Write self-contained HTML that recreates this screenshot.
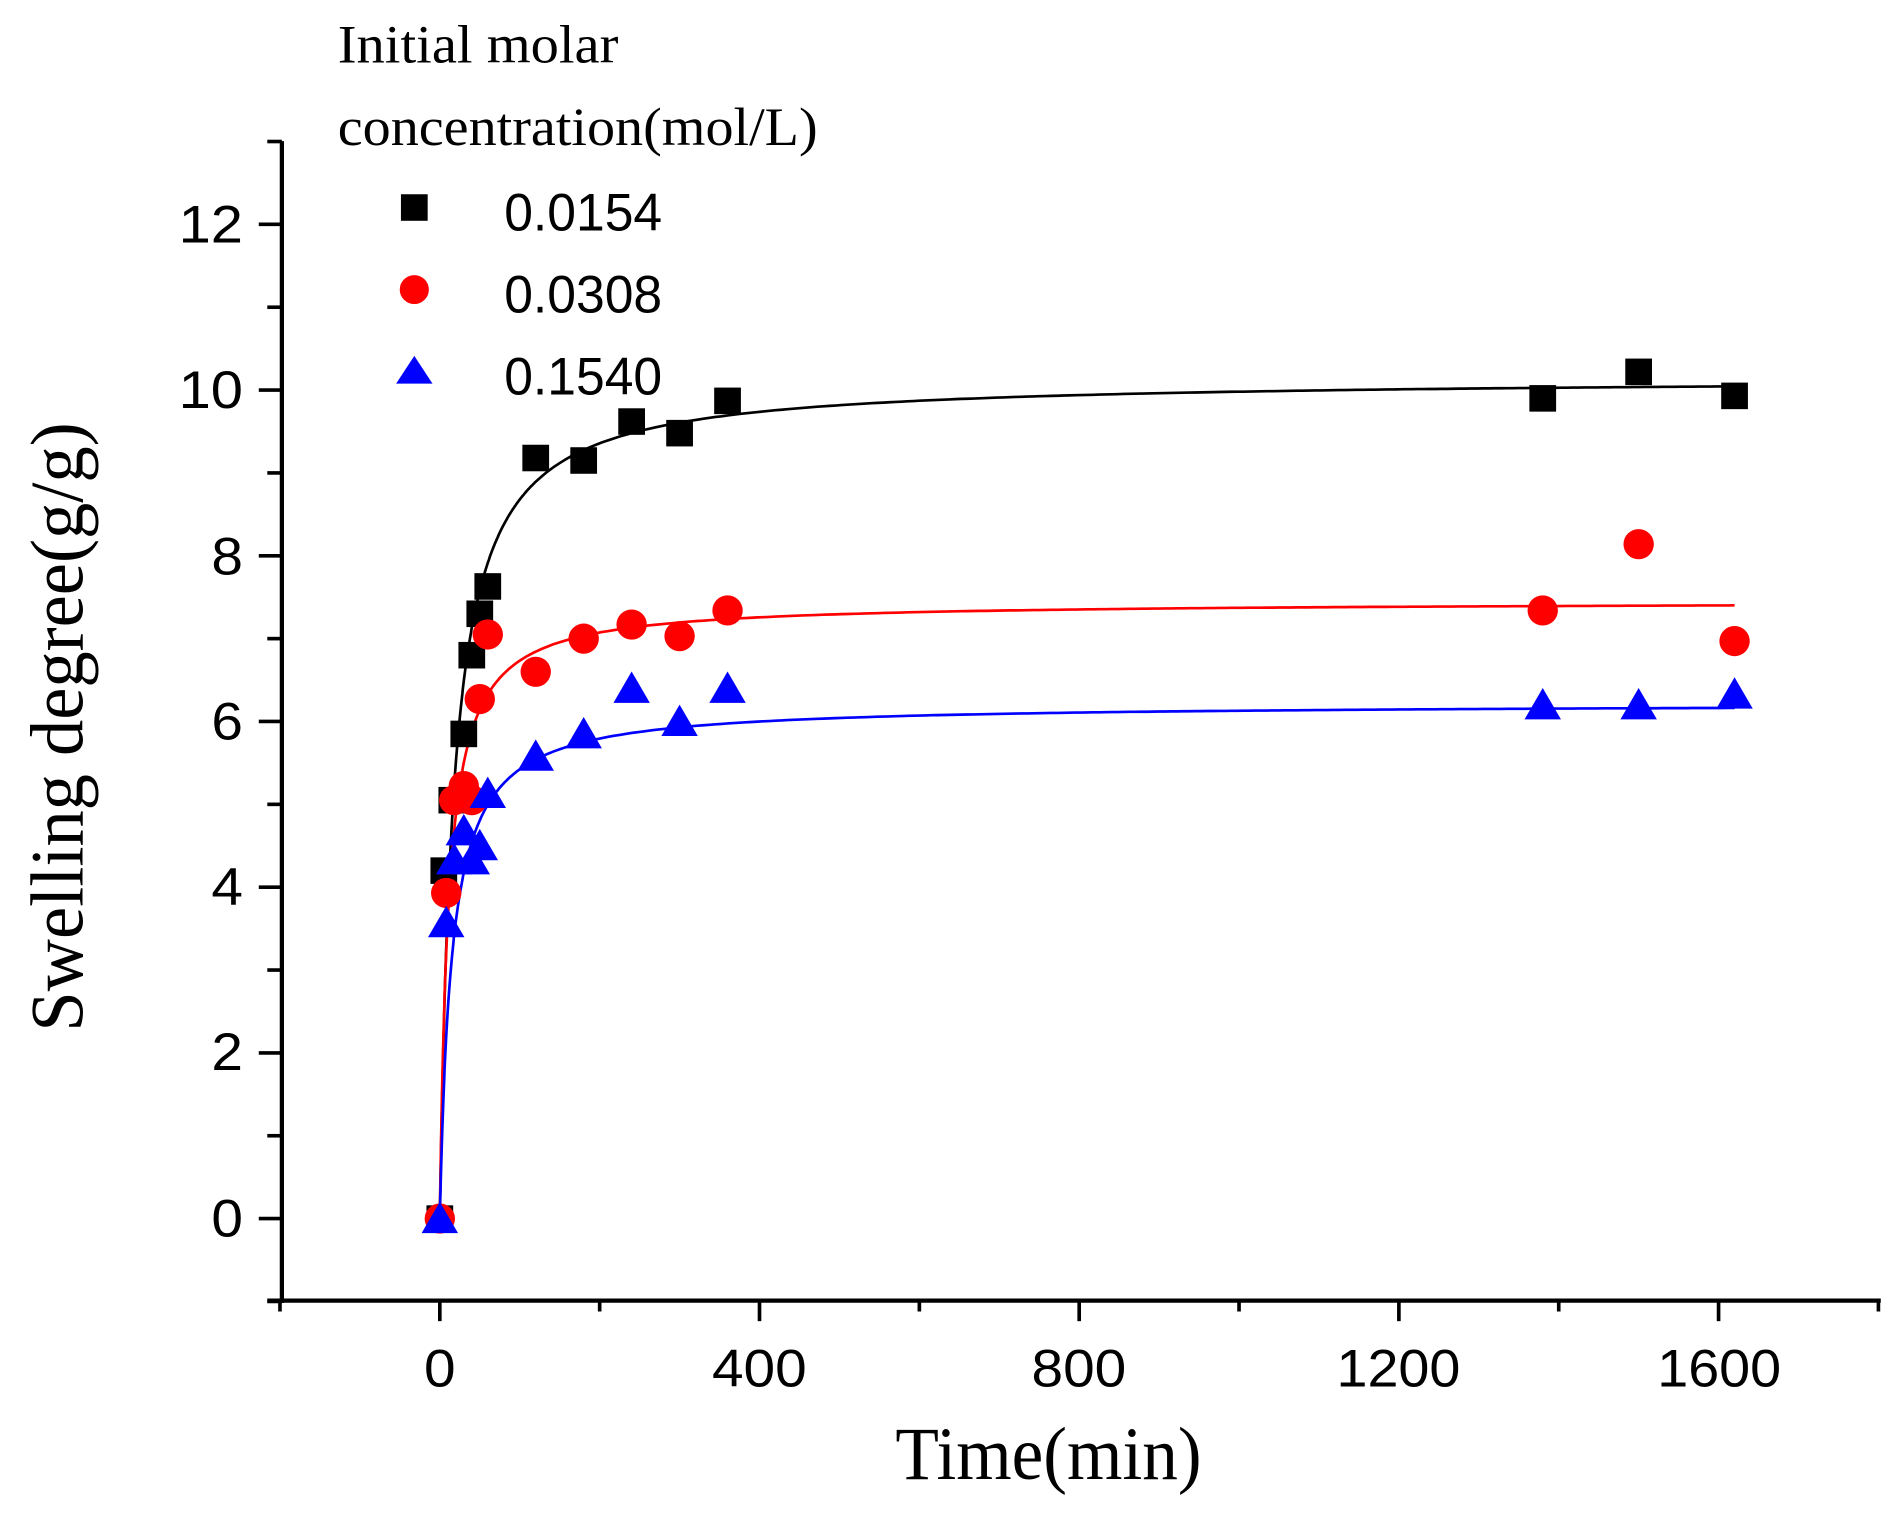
<!DOCTYPE html>
<html><head><meta charset="utf-8"><style>
html,body{margin:0;padding:0;background:#fff;}
svg{display:block;}
.t{font-family:"Liberation Sans",sans-serif;font-size:44px;}
.s{font-family:"Liberation Serif",serif;}
</style></head><body>
<svg id="c" width="1899" height="1513" viewBox="0 0 1563 1254" preserveAspectRatio="none" xmlns="http://www.w3.org/2000/svg">
<rect width="1563" height="1254" fill="#fff"/>
<g stroke="#000" stroke-width="3.5" fill="none">
<line x1="232" y1="117" x2="232" y2="1080"/>
<line x1="220" y1="1078" x2="1548" y2="1078"/>
</g>
<g id="ticks" stroke="#000" stroke-width="3"></g>
<g class="t" text-anchor="end" lengthAdjust="spacingAndGlyphs">
<text x="200" y="201" textLength="53" lengthAdjust="spacingAndGlyphs">12</text><text x="200" y="338" textLength="53" lengthAdjust="spacingAndGlyphs">10</text><text x="200" y="476" textLength="26" lengthAdjust="spacingAndGlyphs">8</text>
<text x="200" y="613" textLength="26" lengthAdjust="spacingAndGlyphs">6</text><text x="200" y="750" textLength="26" lengthAdjust="spacingAndGlyphs">4</text><text x="200" y="887" textLength="26" lengthAdjust="spacingAndGlyphs">2</text><text x="200" y="1025" textLength="26" lengthAdjust="spacingAndGlyphs">0</text>
</g>
<g class="t" text-anchor="middle">
<text x="362" y="1149" textLength="26" lengthAdjust="spacingAndGlyphs">0</text><text x="625" y="1149" textLength="78" lengthAdjust="spacingAndGlyphs">400</text><text x="888" y="1149" textLength="78" lengthAdjust="spacingAndGlyphs">800</text>
<text x="1151" y="1149" textLength="102" lengthAdjust="spacingAndGlyphs">1200</text><text x="1415" y="1149" textLength="102" lengthAdjust="spacingAndGlyphs">1600</text>
</g>
<text class="s" x="737" y="1226" font-size="62" textLength="252" lengthAdjust="spacingAndGlyphs">Time(min)</text>
<text class="s" transform="translate(68,855) rotate(-90)" font-size="62" textLength="505" lengthAdjust="spacingAndGlyphs">Swelling degree(g/g)</text>
<text class="s" x="278" y="52" font-size="45" textLength="231" lengthAdjust="spacingAndGlyphs">Initial molar</text>
<text class="s" x="278" y="120" font-size="45" textLength="395" lengthAdjust="spacingAndGlyphs">concentration(mol/L)</text>
<g id="curves" fill="none" stroke-width="2.2"></g>
<g id="pts"></g>
<rect x="330" y="161" width="22" height="22" fill="#000"/>
<ellipse cx="341" cy="240" rx="12" ry="12" fill="#f00"/>
<polygon points="341,295 326,318 356,318" fill="#00f"/>
<g class="t"><text x="415" y="191" textLength="130" lengthAdjust="spacingAndGlyphs">0.0154</text><text x="415" y="259" textLength="130" lengthAdjust="spacingAndGlyphs">0.0308</text><text x="415" y="327" textLength="130" lengthAdjust="spacingAndGlyphs">0.1540</text></g>
</svg>
<script>
function X(t){return 362+t*0.65781;}
function Y(v){return 1010-v*68.67;}
var tk=document.getElementById('ticks'),h='';
for(var v=-1;v<=13;v++){var y=Y(v);var major=(v%2==0);h+='<line x1="'+(major?213:220)+'" y1="'+y+'" x2="232" y2="'+y+'"/>';}
for(var t=-200;t<=1800;t+=200){var x=X(t);var major=(t%400==0);h+='<line x1="'+x+'" y1="1078" x2="'+x+'" y2="'+(major?1095:1087)+'"/>';}
tk.innerHTML=h;
var cur=[["#000",10.15,0.059],["#f00",7.45,0.094],["#00f",6.22,0.068]],ch='';
cur.forEach(function(c){var d='';for(var i=0;i<=400;i++){var t=i<200?i*0.6:120+(i-200)*7.5;var kq=c[2]*t;var v=c[1]*kq/(1+kq);d+=(i?'L':'M')+X(t).toFixed(1)+','+Y(v).toFixed(1);}ch+='<path d="'+d+'" stroke="'+c[0]+'"/>';});
document.getElementById('curves').innerHTML=ch;
var B=[[0,0],[5,4.2],[15,5.05],[30,5.85],[40,6.8],[50,7.3],[60,7.63],[120,9.18],[180,9.15],[240,9.62],[300,9.48],[360,9.87],[1380,9.9],[1500,10.22],[1620,9.93]];
var R=[[0,0],[8,3.93],[18,5.05],[30,5.22],[40,5.05],[50,6.27],[60,7.05],[120,6.6],[180,7.0],[240,7.17],[300,7.03],[360,7.34],[1380,7.34],[1500,8.14],[1620,6.97]];
var U=[[0,0],[8,3.57],[18,4.33],[30,4.68],[40,4.33],[50,4.5],[60,5.13],[120,5.58],[180,5.85],[240,6.4],[300,6.0],[360,6.4],[1380,6.2],[1500,6.2],[1620,6.33]];
var p='';
B.forEach(function(d){var x=X(d[0]),y=Y(d[1]);p+='<rect x="'+(x-11)+'" y="'+(y-11)+'" width="22" height="22" fill="#000"/>';});
R.forEach(function(d){p+='<ellipse cx="'+X(d[0])+'" cy="'+Y(d[1])+'" rx="12.5" ry="12.5" fill="#f00"/>';});
U.forEach(function(d){var x=X(d[0]),y=Y(d[1]);p+='<polygon points="'+x+','+(y-14)+' '+(x-15)+','+(y+12)+' '+(x+15)+','+(y+12)+'" fill="#00f"/>';});
document.getElementById('pts').innerHTML=p;
</script>
</body></html>
